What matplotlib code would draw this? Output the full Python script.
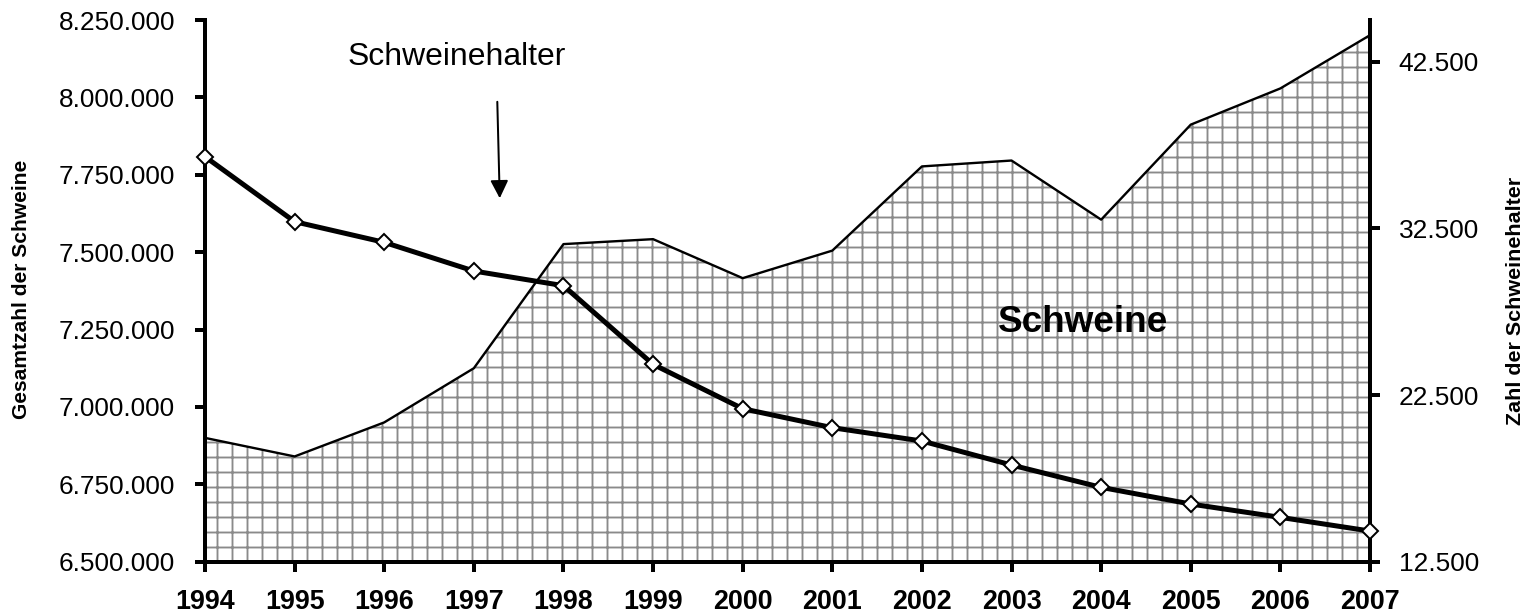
import matplotlib
matplotlib.use("Agg")
import matplotlib.pyplot as plt
from matplotlib.ticker import FuncFormatter, FixedLocator

# ---- data ----
years = ["1994", "1995", "1996", "1997", "1998", "1999", "2000",
         "2001", "2002", "2003", "2004", "2005", "2006", "2007"]
schweine = [6900000, 6840000, 6950000, 7125000, 7526000, 7542000, 7416000,
            7505000, 7777000, 7796000, 7605000, 7912000, 8029000, 8201000]
schweinehalter = [36800, 32900, 31660, 29940, 29060, 24340, 21680,
                  20540, 19740, 18300, 16960, 15960, 15160, 14340]
left_ticks = [6500000, 6750000, 7000000, 7250000, 7500000, 7750000, 8000000, 8250000]
right_ticks = [12500, 22500, 32500, 42500]

plt.rcParams['font.family'] = ['Liberation Sans', 'DejaVu Sans']
plt.rcParams['hatch.color'] = '#8a8a8a'
plt.rcParams['hatch.linewidth'] = 1.5

DPI = 90
fig = plt.figure(figsize=(1529 / DPI, 616 / DPI), dpi=DPI)
ax = fig.add_axes([205 / 1529, 1 - 561.7 / 616, (1370 - 205) / 1529, (561.7 - 20) / 616])
ax2 = ax.twinx()

x = list(range(len(years)))

def de_fmt(v, pos=None):
    return f"{v:,.0f}".replace(",", ".")

# area (Schweine, left axis)
ax.fill_between(x, left_ticks[0], schweine, facecolor='white', edgecolor='#8a8a8a',
                hatch='+', linewidth=0, zorder=1)
ax.plot(x, schweine, color='black', lw=1.9, zorder=2)

# line (Schweinehalter, right axis)
ax2.plot(x, schweinehalter, color='black', lw=4, marker='D', markersize=8.5,
         markerfacecolor='white', markeredgecolor='black', markeredgewidth=1.6,
         zorder=5, clip_on=False)

ax.set_xlim(0, len(years) - 1)
ax.set_ylim(6500000, 8250000)
ax2.set_ylim(12500, 45000)

ax.yaxis.set_major_locator(FixedLocator(left_ticks))
ax.yaxis.set_major_formatter(FuncFormatter(de_fmt))
ax2.yaxis.set_major_locator(FixedLocator(right_ticks))
ax2.yaxis.set_major_formatter(FuncFormatter(de_fmt))
ax.set_xticks(x)
ax.set_xticklabels(years, fontweight='bold', fontsize=21.5)

for a in (ax, ax2):
    a.spines['top'].set_visible(False)
    for s in ('left', 'right', 'bottom'):
        a.spines[s].set_linewidth(3.2)
    a.patch.set_visible(False)
ax2.spines['left'].set_visible(False)
ax2.spines['bottom'].set_visible(False)
ax.spines['right'].set_visible(False)

ax.tick_params(axis='y', length=8, width=3.2, pad=16, labelsize=21)
ax2.tick_params(axis='y', length=8, width=3.2, pad=15, labelsize=21)
ax.tick_params(axis='x', length=8, width=3.2, pad=14)

ax.set_ylabel("Gesamtzahl der Schweine", fontweight='bold', fontsize=16.8)
ax2.set_ylabel("Zahl der Schweinehalter", fontweight='bold', fontsize=17.2)
ax.yaxis.set_label_coords(-0.1490, 0.503)
ax2.yaxis.set_label_coords(1.1165, 0.481)

# annotations
ax.text(0.2163, 0.9317, "Schweinehalter", transform=ax.transAxes, ha='center',
        va='center', fontsize=25.5)
ax.annotate('', xy=(0.253, 0.6709), xytext=(0.2509, 0.849),
            xycoords='axes fraction', textcoords='axes fraction',
            arrowprops=dict(arrowstyle='-|>', lw=1.6, color='black',
                            mutation_scale=30, shrinkA=0, shrinkB=0))
ax.text((1083 - 205) / 1165, (561.7 - 323) / 541.7, "Schweine", transform=ax.transAxes,
        ha='center', va='center', fontsize=29.5, fontweight='bold', zorder=3)

fig.savefig("out.png", dpi=DPI)
